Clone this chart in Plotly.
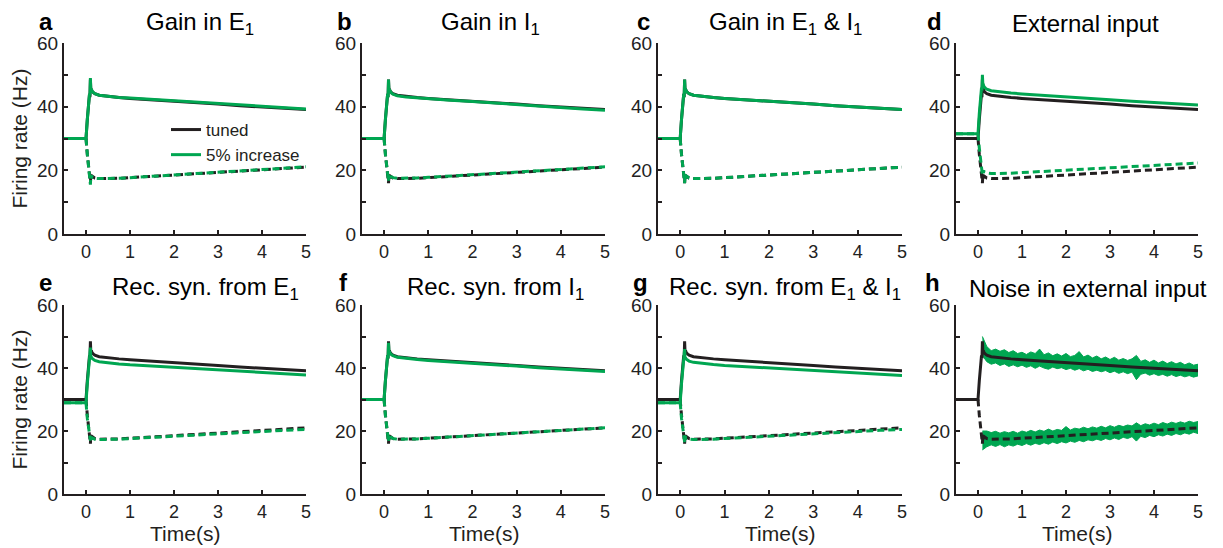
import plotly.graph_objects as go

# ---------------- data ----------------
t = [-0.5, 0.0, 0.03, 0.06, 0.08, 0.09, 0.10, 0.11, 0.12, 0.14, 0.17, 0.20,
     0.30, 0.50, 0.75, 1.0, 1.5, 2.0, 2.5, 3.0, 3.5, 4.0, 4.5, 5.0]

tuned_E = [30, 30, 36, 41, 44, 43, 48.5, 45, 45.5, 44.8, 44.4, 44.1,
           43.6, 43.2, 42.9, 42.6, 42.2, 41.8, 41.3, 40.8, 40.3, 39.9, 39.5, 39.1]
tuned_I = [30, 30, 25, 21, 19, 17, 16, 18.5, 17.5, 18.2, 17.8, 17.6,
           17.4, 17.4, 17.5, 17.7, 18.1, 18.5, 18.9, 19.4, 19.8, 20.2, 20.6, 21.0]

a_E = [30, 30, 36, 41, 44, 43.5, 49, 45, 45.5, 44.8, 44.4, 44.1,
       43.6, 43.2, 42.9, 42.7, 42.3, 41.9, 41.4, 40.9, 40.5, 40.1, 39.7, 39.3]
a_I = [30, 30, 25, 21, 18.5, 16.5, 15.5, 18.5, 17.5, 18.0, 17.7, 17.5,
       17.4, 17.4, 17.5, 17.7, 18.1, 18.5, 19.0, 19.5, 19.9, 20.3, 20.7, 21.1]

b_E = [30, 30, 36, 41, 44, 43, 48.5, 45, 45.3, 44.6, 44.2, 43.9,
       43.4, 43.0, 42.7, 42.4, 42.0, 41.6, 41.1, 40.6, 40.1, 39.7, 39.3, 38.9]
b_I = [30, 30, 25, 21, 19, 17.5, 16.5, 18.5, 17.6, 18.2, 17.9, 17.7,
       17.5, 17.5, 17.6, 17.8, 18.2, 18.6, 19.0, 19.5, 19.9, 20.3, 20.7, 21.1]

c_E = [30, 30, 36, 41, 44, 43, 48.5, 45, 45.5, 44.8, 44.4, 44.1,
       43.6, 43.2, 42.9, 42.6, 42.2, 41.8, 41.3, 40.8, 40.3, 39.9, 39.5, 39.1]
c_I = [30, 30, 25, 21, 19, 17, 16, 18.5, 17.5, 18.2, 17.8, 17.6,
       17.4, 17.4, 17.5, 17.7, 18.1, 18.5, 18.9, 19.4, 19.8, 20.2, 20.6, 21.0]

d_E = [31.5, 31.5, 38, 43, 46, 45, 50, 47, 47, 46.2, 45.8, 45.5,
       45.0, 44.6, 44.3, 44.0, 43.6, 43.2, 42.7, 42.2, 41.7, 41.3, 40.9, 40.5]
d_I = [31.5, 31.5, 27, 23, 21, 19.5, 18.5, 20, 19.3, 19.6, 19.3, 19.2,
       19.0, 19.0, 19.1, 19.3, 19.7, 20.1, 20.5, 20.9, 21.3, 21.7, 22.0, 22.3]

e_E = [29, 29, 35, 40, 43, 44, 46.5, 43, 43.5, 43.0, 42.6, 42.4,
       42.0, 41.6, 41.3, 41.0, 40.6, 40.2, 39.7, 39.3, 38.9, 38.5, 38.1, 37.8]
e_I = [29, 29, 24, 20.5, 18.5, 17, 17, 18.5, 17.5, 17.8, 17.5, 17.4,
       17.3, 17.3, 17.4, 17.6, 18.0, 18.4, 18.8, 19.2, 19.6, 19.9, 20.2, 20.5]

f_E = [30, 30, 36, 41, 44, 43, 48, 45, 45.3, 44.6, 44.2, 43.9,
       43.4, 43.0, 42.7, 42.4, 42.0, 41.6, 41.1, 40.6, 40.1, 39.7, 39.3, 38.9]
f_I = [30, 30, 25, 21, 19, 17.5, 16.5, 18.5, 17.5, 18.2, 17.8, 17.6,
       17.4, 17.4, 17.5, 17.7, 18.1, 18.5, 18.9, 19.4, 19.8, 20.2, 20.6, 21.0]

g_E = [29, 29, 35, 40, 43, 44, 46, 43, 43.3, 42.8, 42.4, 42.2,
       41.8, 41.4, 41.1, 40.8, 40.4, 40.0, 39.5, 39.1, 38.7, 38.3, 37.9, 37.6]
g_I = [29, 29, 24, 20.5, 18.5, 17, 16.5, 18.5, 17.5, 17.8, 17.5, 17.4,
       17.3, 17.3, 17.4, 17.6, 18.0, 18.4, 18.8, 19.2, 19.6, 19.9, 20.2, 20.5]

t_noise = [0.1, 0.2, 0.3, 0.4, 0.5, 0.6, 0.7, 0.8, 0.9, 1.0,
           1.1, 1.2, 1.3, 1.4, 1.5, 1.6, 1.7, 1.8, 1.9, 2.0,
           2.1, 2.2, 2.3, 2.4, 2.5, 2.6, 2.7, 2.8, 2.9, 3.0,
           3.1, 3.2, 3.3, 3.4, 3.5, 3.6, 3.7, 3.8, 3.9, 4.0,
           4.1, 4.2, 4.3, 4.4, 4.5, 4.6, 4.7, 4.8, 4.9, 5.0]
h_E_upper = [50, 46.8, 45.5, 46.0, 45.3, 45.8, 44.9, 45.5, 44.6, 45.0,
             44.3, 45.1, 44.6, 46.0, 44.2, 44.8, 43.9, 44.5, 43.8, 44.6,
             43.6, 44.0, 45.2, 43.5, 44.1, 43.2, 43.8, 42.9, 43.5, 42.7,
             43.4, 42.5, 43.0, 42.4, 42.9, 44.0, 42.1, 42.6, 41.8, 42.5,
             41.6, 42.2, 41.4, 42.0, 41.3, 41.8, 41.0, 41.6, 40.9, 41.2]
h_E_lower = [44, 42.0, 41.2, 41.6, 40.8, 41.3, 40.5, 41.0, 40.4, 40.9,
             40.2, 40.7, 39.9, 40.6, 40.0, 39.6, 40.3, 39.8, 40.1, 39.5,
             39.9, 39.3, 39.8, 39.1, 39.6, 38.9, 39.3, 38.8, 39.2, 38.5,
             39.0, 38.3, 38.8, 38.2, 38.7, 36.3, 38.0, 38.4, 37.7, 38.2,
             37.6, 38.0, 37.4, 37.9, 37.3, 37.7, 37.2, 37.6, 37.1, 37.5]
h_I_upper = [20, 20.0, 19.5, 19.9, 19.3, 19.8, 19.4, 19.9, 19.3, 20.0,
             19.6, 20.2, 19.7, 20.3, 19.9, 20.6, 20.0, 20.5, 20.2, 21.4,
             20.3, 20.9, 20.6, 21.2, 20.7, 21.3, 20.9, 21.5, 21.0, 21.7,
             21.2, 21.8, 21.4, 21.9, 21.6, 22.6, 21.7, 22.3, 21.9, 22.5,
             22.0, 22.7, 22.2, 22.8, 22.4, 22.9, 22.5, 23.1, 22.7, 23.0]
h_I_lower = [14, 15.0, 15.6, 15.1, 15.7, 15.0, 15.6, 15.2, 15.8, 15.4,
             16.0, 15.5, 16.1, 15.7, 16.3, 15.8, 16.5, 16.0, 16.6, 16.2,
             16.8, 16.4, 17.0, 16.6, 17.2, 16.9, 17.4, 17.0, 17.6, 17.2,
             17.8, 17.3, 18.0, 17.6, 18.2, 16.8, 18.3, 17.9, 18.6, 18.2,
             18.8, 18.4, 19.0, 18.6, 19.2, 18.8, 19.4, 19.0, 19.6, 19.2]

panel_letters = ["a", "b", "c", "d", "e", "f", "g", "h"]
panel_titles = ["Gain in E<sub>1</sub>", "Gain in I<sub>1</sub>",
                "Gain in E<sub>1</sub> & I<sub>1</sub>", "External input",
                "Rec. syn. from E<sub>1</sub>", "Rec. syn. from I<sub>1</sub>",
                "Rec. syn. from E<sub>1</sub> & I<sub>1</sub>",
                "Noise in external input"]
modified = [(a_E, a_I), (b_E, b_I), (c_E, c_I), (d_E, d_I),
            (e_E, e_I), (f_E, f_I), (g_E, g_I), None]
legend_names = ["tuned", "5% increase"]
y_ticks = [0, 20, 40, 60]
y_minor_ticks = [10, 30, 50]
x_ticks = [0, 1, 2, 3, 4, 5]

# ---------------- style ----------------
W, H = 1223, 548
BLACK = "#231f20"
GREEN = "#00a651"
FONT = "Liberation Sans, Arial, sans-serif"
col_px = [(64, 306), (362, 605), (658, 902), (956, 1198)]
row_px = [(43, 234), (305, 494)]
title_cx = [200, 490, 785, 1085, 205, 495, 785, 1088]
title_cy = [24, 288]
letter_x = [46, 345, 643, 934, 45, 343, 640, 932]
letter_y = [21, 282]
DASH = "7px,4px"

fig = go.Figure()
layout = dict(width=W, height=H, margin=dict(l=0, r=0, t=0, b=0),
              paper_bgcolor="white", plot_bgcolor="white",
              font=dict(family=FONT, color=BLACK, size=18),
              showlegend=True,
              legend=dict(x=166 / W, y=1 - 112 / H, xanchor="left", yanchor="top",
                          bgcolor="rgba(0,0,0,0)", font=dict(size=17, color=BLACK),
                          tracegroupgap=0, itemwidth=30))
annotations = []

for k in range(8):
    r, c = divmod(k, 4)
    ax = "" if k == 0 else str(k + 1)
    xa, ya = "x" + ax, "y" + ax
    x0, x1 = col_px[c]
    y0, y1 = row_px[r]
    layout["xaxis" + ax] = dict(
        domain=[x0 / W, x1 / W], anchor=ya, range=[-0.5, 5.0],
        tickvals=x_ticks, ticks="inside", ticklen=4, tickwidth=1.5, tickcolor=BLACK,
        showline=True, linecolor=BLACK, linewidth=2, showgrid=False, zeroline=False,
        tickfont=dict(size=18, color="#222"), automargin=False)
    layout["yaxis" + ax] = dict(
        domain=[1 - y1 / H, 1 - y0 / H], anchor=xa, range=[0, 60],
        tickvals=y_ticks, ticks="inside", ticklen=4,
        tickwidth=1.5, tickcolor=BLACK,
        minor=dict(tickvals=y_minor_ticks, ticks="inside", ticklen=4,
                   tickwidth=1.5, tickcolor=BLACK, showgrid=False),
        showline=True, linecolor=BLACK, linewidth=2, showgrid=False, zeroline=False,
        tickfont=dict(size=19, color="#222"), automargin=False)

    if k == 7:
        fig.add_trace(go.Scatter(x=t_noise + t_noise[::-1], y=h_E_lower + h_E_upper[::-1],
                                 fill="toself", fillcolor=GREEN, mode="lines",
                                 line=dict(color=GREEN, width=1), xaxis=xa, yaxis=ya,
                                 showlegend=False, hoverinfo="skip"))
        fig.add_trace(go.Scatter(x=t_noise + t_noise[::-1], y=h_I_lower + h_I_upper[::-1],
                                 fill="toself", fillcolor=GREEN, mode="lines",
                                 line=dict(color=GREEN, width=1), xaxis=xa, yaxis=ya,
                                 showlegend=False, hoverinfo="skip"))

    fig.add_trace(go.Scatter(x=t, y=tuned_E, mode="lines", name=legend_names[0],
                             line=dict(color=BLACK, width=3), xaxis=xa, yaxis=ya,
                             showlegend=(k == 0)))
    fig.add_trace(go.Scatter(x=t, y=tuned_I, mode="lines", showlegend=False,
                             line=dict(color=BLACK, width=3, dash=DASH), xaxis=xa, yaxis=ya))
    if modified[k] is not None:
        mE, mI = modified[k]
        fig.add_trace(go.Scatter(x=t, y=mE, mode="lines", name=legend_names[1],
                                 line=dict(color=GREEN, width=3), xaxis=xa, yaxis=ya,
                                 showlegend=(k == 0)))
        fig.add_trace(go.Scatter(x=t, y=mI, mode="lines", showlegend=False,
                                 line=dict(color=GREEN, width=3, dash=DASH), xaxis=xa, yaxis=ya))

    annotations.append(dict(text=panel_titles[k], x=title_cx[k] / W, y=1 - title_cy[r] / H,
                            xref="paper", yref="paper", showarrow=False,
                            xanchor="center", yanchor="middle",
                            font=dict(size=24, color="black")))
    annotations.append(dict(text="<b>" + panel_letters[k] + "</b>", x=letter_x[k] / W,
                            y=1 - letter_y[r] / H, xref="paper", yref="paper",
                            showarrow=False, xanchor="center", yanchor="middle",
                            font=dict(size=24, color="black")))
    if r == 1:
        annotations.append(dict(text="Time(s)", x=(x0 + x1) / 2 / W, y=1 - 533 / H,
                                xref="paper", yref="paper", showarrow=False,
                                xanchor="center", yanchor="middle",
                                font=dict(size=21, color=BLACK)))

for r in range(2):
    y0, y1 = row_px[r]
    annotations.append(dict(text="Firing rate (Hz)", x=19 / W, y=1 - (y0 + y1) / 2 / H,
                            xref="paper", yref="paper", showarrow=False, textangle=-90,
                            xanchor="center", yanchor="middle", font=dict(size=21)))

layout["annotations"] = annotations
fig.update_layout(**layout)
fig.write_html("out.html", config={"displayModeBar": False},
               post_script="document.body.style.margin='0px';")
